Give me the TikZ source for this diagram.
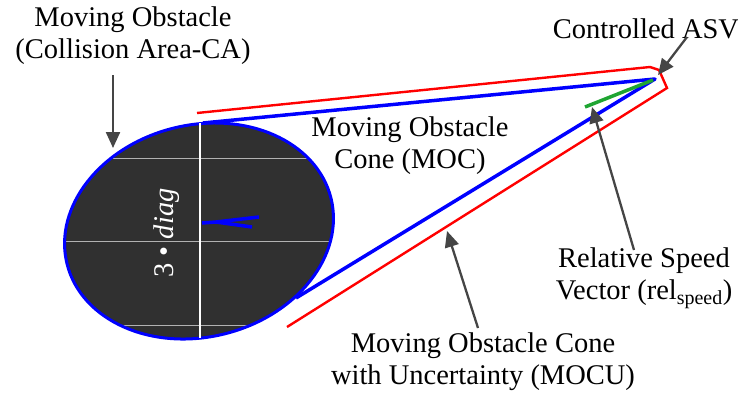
\documentclass[tikz,border=0pt]{standalone}
\usepackage{fontspec}
\setmainfont{Liberation Serif}
\usetikzlibrary{arrows.meta}
\definecolor{arrowgray}{HTML}{454545}
\definecolor{obstacle}{HTML}{303030}
\definecolor{speedgreen}{HTML}{1FA532}

\begin{document}
\begin{tikzpicture}[
    x=1pt, y=-1pt,
    every node/.style={font=\fontsize{28.5}{32}\selectfont, align=center, inner sep=0pt},
    pointer/.style={-{Triangle[length=16pt, width=14pt]}, line width=2.3pt, draw=arrowgray},
    cone/.style={blue, line width=3.5pt, line join=round},
    ucone/.style={red, line width=2.4pt},
    grid/.style={gray!60, line width=0.8pt},
    area/.style={rotate around={14:(ca)}}
]
    \useasboundingbox (0,0) rectangle (738,394);

    % Collision area
    \coordinate (ca) at (199,231);
    \fill[obstacle, area] (ca) ellipse [x radius=136, y radius=106];
    \begin{scope}
        \clip[area] (ca) ellipse [x radius=136, y radius=106];
        \draw[grid] (50,158) -- (350,158);
        \draw[grid] (50,241) -- (350,241);
        \draw[grid] (50,325) -- (350,325);
    \end{scope}
    \draw[blue, line width=3pt, area] (ca) ellipse [x radius=136, y radius=106];

    % Cones
    \coordinate (asv) at (655,79);
    \coordinate (mocTop) at (203,123);
    \coordinate (mocBot) at (296,298);
    \draw[cone] (mocTop) -- (asv) -- (mocBot);

    \coordinate (mocuTop) at (197,113);
    \coordinate (mocuA) at (650,67);
    \coordinate (mocuB) at (659,70);
    \coordinate (mocuC) at (667,88);
    \coordinate (mocuBot) at (287,327);
    \draw[ucone] (mocuTop) -- (mocuA) -- (mocuB) -- (mocuC) -- (mocuBot);

    % Relative speed
    \coordinate (relStart) at (585,107);
    \coordinate (relEnd) at (653,80);
    \draw[speedgreen, line width=3.5pt] (relStart) -- (relEnd);

    % Obstacle heading
    \coordinate (vc) at (202,223);
    \coordinate (vj) at (216,222);
    \coordinate (va) at (259,217);
    \coordinate (vb) at (252,227);
    \draw[cone] (vc) -- (vj) -- (va);
    \draw[cone] (vj) -- (vb);

    % Diameter
    \coordinate (diagTop) at (200,123);
    \coordinate (diagBot) at (200,338);
    \draw[white, line width=2.3pt] (diagTop) -- (diagBot);
    \node[text=white, rotate=90] (diagLabel) at (167,233) {3 \textbullet\ \textit{diag}};

    % Labels
    \node (caLabel) at (133,36) {Moving Obstacle\\(Collision Area-CA)};
    \node (asvLabel) at (646,29) {Controlled ASV};
    \node (mocLabel) at (410,146) {Moving Obstacle\\Cone (MOC)};
    \node (speedLabel) at (644,278) {Relative Speed\\Vector (rel\textsubscript{speed})};
    \node (mocuLabel) at (483,362) {Moving Obstacle Cone\\with Uncertainty (MOCU)};

    % Pointers
    \coordinate (caTail) at (113,75);
    \coordinate (caTip) at (113,148);
    \coordinate (asvTail) at (687,37);
    \coordinate (asvTip) at (658,75);
    \coordinate (speedTail) at (634,250);
    \coordinate (speedTip) at (592,107);
    \coordinate (mocuTail) at (478,328);
    \coordinate (mocuTip) at (447,231);
    \draw[pointer] (caTail) -- (caTip);
    \draw[pointer] (asvTail) -- (asvTip);
    \draw[pointer] (speedTail) -- (speedTip);
    \draw[pointer] (mocuTail) -- (mocuTip);

\end{tikzpicture}
\end{document}
